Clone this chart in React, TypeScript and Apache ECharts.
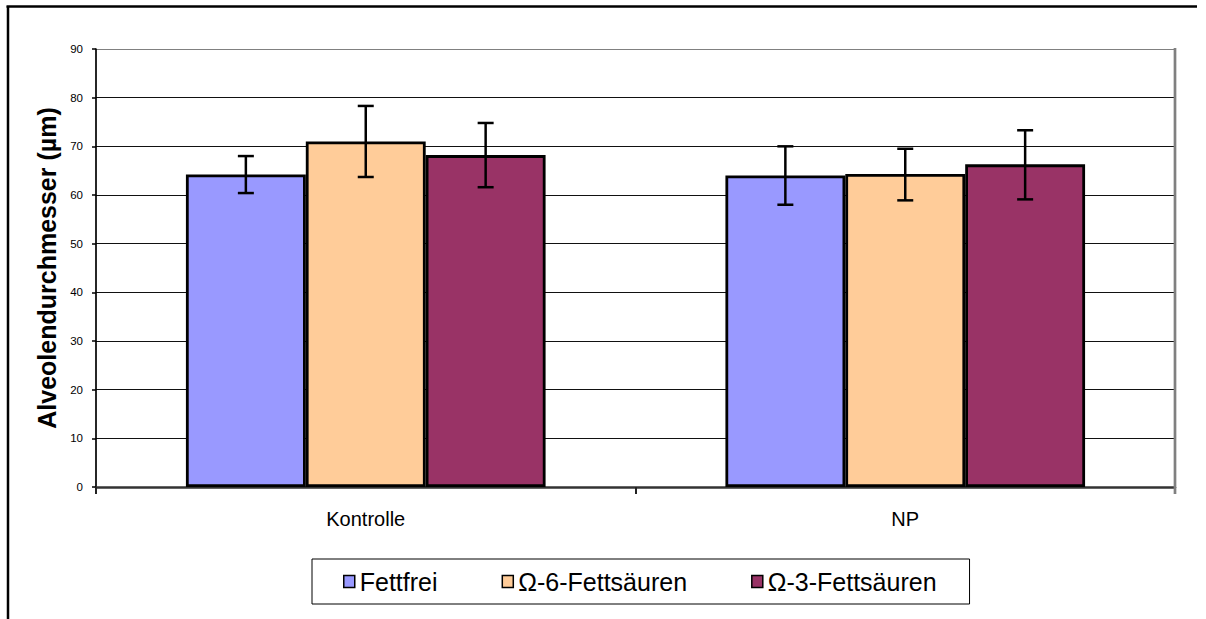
import React, { useEffect, useRef } from "react";
import * as echarts from "echarts";

const categories = ["Kontrolle", "NP"];
const seriesNames = ["Fettfrei", "Ω-6-Fettsäuren", "Ω-3-Fettsäuren"];
const fettfrei = [64.2, 64.0];
const omega6 = [71.0, 64.3];
const omega3 = [68.2, 66.3];
const fettfreiErr = [[60.4, 68.0], [58.0, 70.0]];
const omega6Err = [[63.7, 78.3], [58.9, 69.5]];
const omega3Err = [[61.6, 74.8], [59.1, 73.3]];
const yTicks = [0, 10, 20, 30, 40, 50, 60, 70, 80, 90];

const colors = ["#9999FF", "#FFCC99", "#993366"];
const FONT = "'Liberation Sans', Arial, sans-serif";

export default function App() {
  const ref = useRef<HTMLDivElement>(null);
  useEffect(() => {
    if (!ref.current) return;
    const chart = echarts.init(ref.current, undefined, { renderer: "svg" });
    const values = [fettfrei, omega6, omega3];
    const errs = [fettfreiErr, omega6Err, omega3Err];

    const barSeries = values.map((v, i) => ({
      name: seriesNames[i],
      type: "bar",
      data: v,
      barWidth: "22.222%",
      barGap: "0%",
      itemStyle: { color: colors[i], borderColor: "#000", borderWidth: 2.8 },
      z: 2,
    }));

    const errSeries = errs.map((e, i) => ({
      name: "err" + i,
      type: "custom",
      z: 5,
      data: e.map((lh, c) => [c, lh[0], lh[1]]),
      renderItem: (params: any, api: any) => {
        const c = api.value(0);
        const lo = api.coord([c, api.value(1)]);
        const hi = api.coord([c, api.value(2)]);
        const catW = api.size([1, 0])[0];
        const bw = catW / 4.5;
        const x = lo[0] + (i - 1) * bw;
        const cap = 8;
        const style = { stroke: "#000", lineWidth: 2.5 };
        return {
          type: "group",
          children: [
            { type: "line", shape: { x1: x, y1: lo[1], x2: x, y2: hi[1] }, style },
            { type: "line", shape: { x1: x - cap, y1: lo[1], x2: x + cap, y2: lo[1] }, style },
            { type: "line", shape: { x1: x - cap, y1: hi[1], x2: x + cap, y2: hi[1] }, style },
          ],
        };
      },
    }));

    const splitColors = yTicks.map((t, k) => (k === yTicks.length - 1 ? "#808080" : "#111"));

    chart.setOption({
      animation: false,
      backgroundColor: "#fff",
      textStyle: { fontFamily: FONT },
      grid: { left: 96, top: 49, right: 31, bottom: 132, containLabel: false },
      legend: {
        data: seriesNames,
        left: 312,
        top: 559,
        orient: "horizontal",
        icon: "rect",
        itemWidth: 11,
        itemHeight: 12,
        itemGap: 64,
        padding: [10, 33, 10, 31],
        borderColor: "#000",
        borderWidth: 1,
        backgroundColor: "#fff",
        itemStyle: { borderColor: "#000", borderWidth: 1.5 },
        textStyle: { fontFamily: FONT, fontSize: 25, color: "#000" },
      },
      xAxis: {
        type: "category",
        data: categories,
        axisLine: { show: true, lineStyle: { color: "#333", width: 2.5 } },
        axisTick: { show: true, alignWithLabel: false, length: 7, lineStyle: { color: "#222", width: 2 } },
        axisLabel: { fontFamily: FONT, fontSize: 20, color: "#000", margin: 22 },
        splitLine: { show: false },
      },
      yAxis: {
        type: "value",
        min: 0,
        max: 90,
        interval: 10,
        name: "Alveolendurchmesser (µm)",
        nameLocation: "middle",
        nameGap: 35,
        nameTextStyle: { fontFamily: FONT, fontSize: 25, fontWeight: "bold", color: "#000" },
        axisLine: { show: true, lineStyle: { color: "#000", width: 1.7 } },
        axisTick: { show: true, length: 4, lineStyle: { color: "#000", width: 1.5 } },
        axisLabel: { fontFamily: FONT, fontSize: 11.5, color: "#000", margin: 13 },
        splitLine: { show: true, lineStyle: { color: splitColors, width: 1 } },
      },
      graphic: [
        { type: "line", shape: { x1: 6.5, y1: 6.5, x2: 1197, y2: 6.5 }, style: { stroke: "#000", lineWidth: 2.5 }, z: 10 },
        { type: "line", shape: { x1: 8, y1: 6, x2: 8, y2: 619 }, style: { stroke: "#000", lineWidth: 2.5 }, z: 10 },
        { type: "line", shape: { x1: 1175, y1: 48, x2: 1175, y2: 494 }, style: { stroke: "#808080", lineWidth: 2.7 }, z: 10 },
      ],
      series: [...barSeries, ...errSeries],
    });
    return () => chart.dispose();
  }, []);
  return (
    <div
      ref={ref}
      style={{ position: "absolute", left: 0, top: 0, width: 1206, height: 619, background: "#fff" }}
    />
  );
}
